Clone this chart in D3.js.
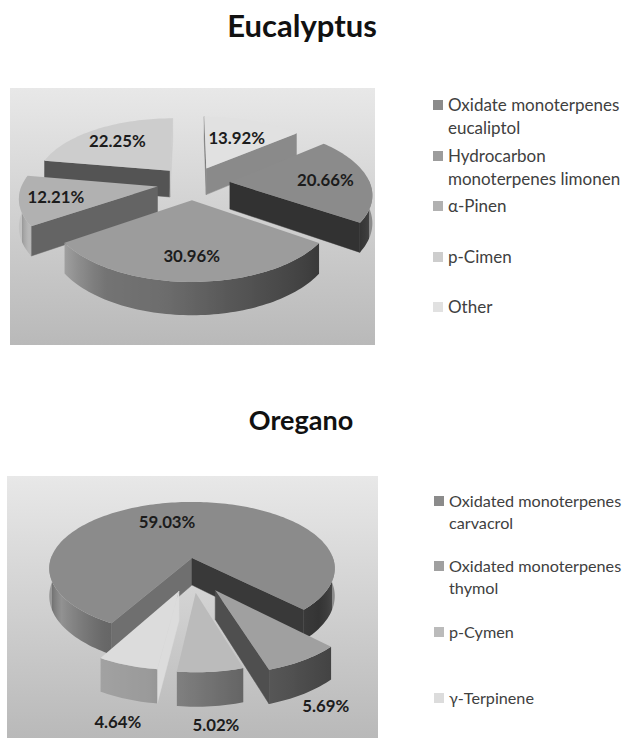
<!DOCTYPE html>
<html>
<head>
<meta charset="utf-8">
<script src="https://cdn.jsdelivr.net/npm/d3@7"></script>
<style>
  html, body { margin: 0; padding: 0; background: #fff; }
  svg { display: block; }
  text { font-family: Lato, "Open Sans", sans-serif; }
</style>
</head>
<body>
<svg id="figure" width="624" height="738"></svg>
<script>
// Essential-oil composition, one exploded 3D pie per plant
const eucalyptusNames = [
  ["Oxidate monoterpenes", "eucaliptol"],
  ["Hydrocarbon", "monoterpenes limonen"],
  ["α-Pinen"],
  ["p-Cimen"],
  ["Other"]
];
const eucalyptusValues = [20.66, 30.96, 12.21, 22.25, 13.92];
const eucalyptusColors = ["#8b8b8b", "#9c9c9c", "#b1b1b1", "#cdcdcd", "#e1e1e1"];

const oreganoNames = [
  ["Oxidated monoterpenes", "carvacrol"],
  ["Oxidated monoterpenes", "thymol"],
  ["p-Cymen"],
  ["γ-Terpinene"]
];
const oreganoValues = [59.03, 5.69, 5.02, 4.64];
const oreganoColors = ["#8b8b8b", "#a0a0a0", "#bbbbbb", "#dcdcdc"];

const rad = Math.PI / 180;
const svg = d3.select("#figure");
const defs = svg.append("defs");

const panelFill = defs.append("linearGradient")
  .attr("id", "panelFill").attr("x1", 0).attr("y1", 0).attr("x2", 0).attr("y2", 1);
panelFill.append("stop").attr("offset", "0%").attr("stop-color", "#e8e8e8");
panelFill.append("stop").attr("offset", "100%").attr("stop-color", "#b9b9b9");

// Brightness of a cut wall by the compass direction its face points to
const wallShade = d3.scaleLinear()
  .domain([60, 100, 122, 145, 190, 214, 228, 255, 300])
  .range([1, 1, 0.77, 0.57, 0.41, 0.36, 0.42, 0.5, 0.6])
  .clamp(true);

// Brightness of the outer rim by compass angle around the pie
const rimShade = d3.scaleLinear()
  .domain([88, 100, 125, 165, 190, 212, 238, 255, 272])
  .range([1.0, 0.6, 0.37, 0.55, 0.7, 0.74, 1.05, 0.72, 1.1])
  .clamp(true);

function shaded(color, factor) {
  const c = d3.rgb(color);
  return d3.rgb(
    Math.min(255, c.r * factor),
    Math.min(255, c.g * factor),
    Math.min(255, c.b * factor)
  ).formatHex();
}

function drawPie(cfg) {
  const g = svg.append("g");

  g.append("rect")
    .attr("x", cfg.panel[0]).attr("y", cfg.panel[1])
    .attr("width", cfg.panel[2]).attr("height", cfg.panel[3])
    .attr("fill", "url(#panelFill)");

  g.append("text")
    .attr("x", cfg.titleX).attr("y", cfg.titleY)
    .attr("text-anchor", "middle")
    .attr("font-size", cfg.titleSize).attr("font-weight", 700).attr("fill", "#111")
    .text(cfg.title);

  // World coordinates: x right, y toward the viewer, z up; the top face sits at z = 0
  const project = (x, y, z) => {
    const f = cfg.eye / (cfg.eye - y);
    return [cfg.cx + x * f, cfg.cy + (y * cfg.tilt - z) * f];
  };
  const polar = (deg, r) => [r * Math.sin(deg * rad), -r * Math.cos(deg * rad)];

  const arcs = d3.pie()
    .sort(null)
    .startAngle(cfg.start * rad)
    .endAngle((cfg.start + 360) * rad)(cfg.values);

  const slices = arcs.map((a, i) => {
    const a0 = a.startAngle / rad, a1 = a.endAngle / rad, mid = (a0 + a1) / 2;
    const [dx, dy] = polar(mid, cfg.explode[i]);
    return { i, a0, a1, mid, ox: dx * cfg.spreadX, oy: dy, r: cfg.radius[i],
             color: cfg.colors[i], value: cfg.values[i] };
  }).sort((p, q) => p.oy - q.oy);

  const line = d3.line();

  slices.forEach(s => {
    const sg = g.append("g");
    const pt = (deg, r, z) => {
      const [x, y] = polar(deg, r);
      return project(s.ox + x, s.oy + y, z);
    };

    // Cut faces that turn toward the viewer
    [{ ang: s.a0, normal: s.a0 - 90 }, { ang: s.a1, normal: s.a1 + 90 }].forEach(w => {
      const [nx, ny] = polar(w.normal, 1);
      const [ex, ey] = polar(w.ang, s.r / 2);
      const facing = nx * (0 - (s.ox + ex)) + ny * (cfg.eye - (s.oy + ey));
      if (facing <= 0) return;
      const compass = ((w.normal % 360) + 360) % 360;
      const tone = shaded(s.color, wallShade(compass));
      sg.append("path")
        .attr("d", line([pt(0, 0, 0), pt(w.ang, s.r, 0),
                         pt(w.ang, s.r, -cfg.height), pt(0, 0, -cfg.height)]) + "Z")
        .attr("fill", tone).attr("stroke", tone).attr("stroke-width", 0.5);
    });

    // Outer rim: the viewer-facing stretches of the arc, each with a horizontal gradient
    const runs = [[s.a0, s.a1], [s.a0 + 360, s.a1 + 360], [s.a0 - 360, s.a1 - 360]]
      .map(([u, v]) => [Math.max(u, 88), Math.min(v, 272)])
      .filter(([u, v]) => v > u);
    runs.forEach(([u, v], k) => {
      const angles = d3.range(u, v, 1.5).concat([v]);
      const xs = angles.map(d => pt(d, s.r, 0)[0]);
      const id = `rim-${cfg.title}-${s.i}-${k}`;
      const grad = defs.append("linearGradient")
        .attr("id", id).attr("gradientUnits", "userSpaceOnUse")
        .attr("x1", xs[0]).attr("y1", 0)
        .attr("x2", xs[xs.length - 1]).attr("y2", 0);
      const span = xs[xs.length - 1] - xs[0];
      angles.forEach((d, j) => {
        grad.append("stop")
          .attr("offset", (xs[j] - xs[0]) / span)
          .attr("stop-color", shaded(s.color, rimShade(d)));
      });
      const upper = angles.map(d => pt(d, s.r, 0));
      const lower = angles.slice().reverse().map(d => pt(d, s.r, -cfg.height));
      sg.append("path")
        .attr("d", line(upper.concat(lower)) + "Z")
        .attr("fill", `url(#${id})`);
    });

    // Top face
    const outline = d3.range(s.a0, s.a1, 1.5).concat([s.a1]).map(d => pt(d, s.r, 0));
    sg.append("path")
      .attr("d", line([pt(0, 0, 0), ...outline]) + "Z")
      .attr("fill", s.color);
  });

  // Percentage labels, placed relative to each slice's own apex
  slices.forEach(s => {
    const [x, y] = polar(s.mid + cfg.labelTurn[s.i], s.r * cfg.labelReach[s.i]);
    const [px, py] = project(s.ox + x, s.oy + y, 0);
    g.append("text")
      .attr("x", px).attr("y", py).attr("dy", "0.35em")
      .attr("text-anchor", "middle")
      .attr("font-size", 16.8).attr("font-weight", 700).attr("fill", "#1c1c1c")
      .text(d3.format(".2f")(s.value) + "%");
  });

  // Legend
  cfg.names.forEach((lines, i) => {
    const y0 = cfg.legendY[i];
    g.append("rect")
      .attr("x", cfg.legendX).attr("y", y0 - 5)
      .attr("width", 10).attr("height", 10)
      .attr("fill", cfg.colors[i]);
    lines.forEach((t, j) => {
      g.append("text")
        .attr("x", cfg.legendX + 15).attr("y", y0 + j * cfg.legendLead)
        .attr("dy", "0.35em")
        .attr("font-size", cfg.legendSize).attr("fill", "#404040")
        .text(t);
    });
  });
}

drawPie({
  title: "Eucalyptus", titleX: 302, titleY: 37, titleSize: 31,
  panel: [10, 88, 365, 257],
  names: eucalyptusNames, values: eucalyptusValues, colors: eucalyptusColors,
  cx: 192, cy: 183, tilt: 0.472, eye: 900, height: 27, start: 50,
  radius: [140, 135, 135, 135, 135],
  explode: [38, 35, 35, 35, 35], spreadX: 1,
  labelTurn: [0, 0, 0, 0, 0],
  labelReach: [0.69, 0.72, 0.74, 0.69, 0.62],
  legendX: 433, legendY: [105, 156, 206, 257, 307], legendLead: 23, legendSize: 17
});

drawPie({
  title: "Oregano", titleX: 301, titleY: 430, titleSize: 27,
  panel: [7, 476, 371, 262],
  names: oreganoNames, values: oreganoValues, colors: oreganoColors,
  cx: 192, cy: 558, tilt: 0.46, eye: 900, height: 27, start: 209.5,
  radius: [141, 132, 125, 125],
  explode: [0, 76, 70, 70], spreadX: 0.55,
  labelTurn: [-10, 7, 1, -6],
  labelReach: [0.64, 1.43, 1.52, 1.545],
  legendX: 434, legendY: [501, 566, 632, 698], legendLead: 22, legendSize: 16.2
});
</script>
</body>
</html>
